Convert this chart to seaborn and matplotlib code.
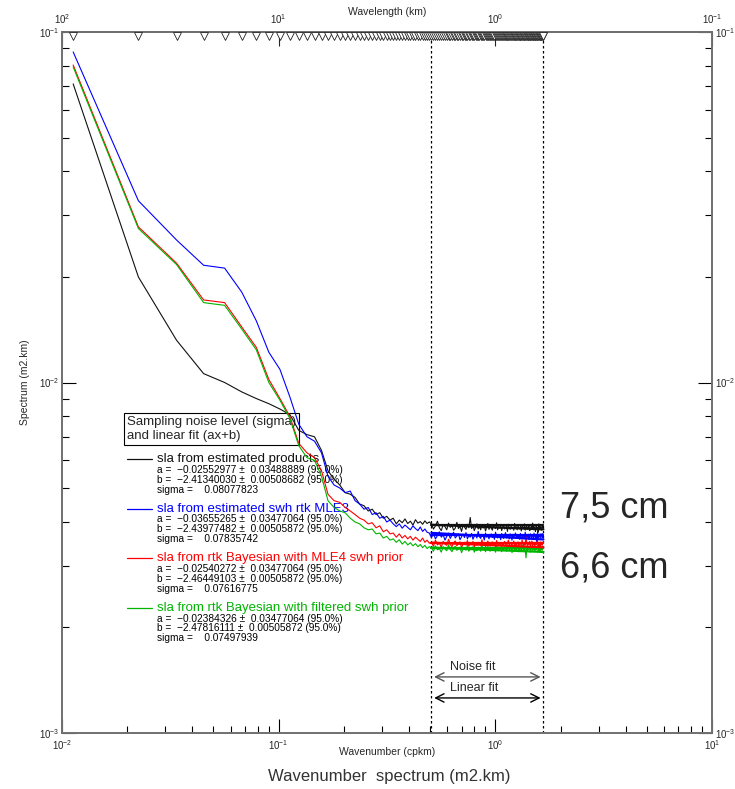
"""
Spectre en nombre d'onde de la SLA (produits estimés, MLE3, Bayésien)
avec niveau de bruit et ajustement linéaire sur le plateau haute fréquence
"""

import numpy as np
import pandas as pd
import matplotlib
matplotlib.use("Agg")
import matplotlib.pyplot as plt
import seaborn as sns
from matplotlib.ticker import LogLocator, LogFormatterSciNotation, NullLocator, NullFormatter
from matplotlib.lines import Line2D

# --- données ---------------------------------------------------------------
sampling_km = 0.3
n_points = 148
wavenumber = np.arange(1, n_points + 1) / (2 * sampling_km * n_points)
fit_start = 45  # premier point de la zone d'ajustement

series_names = [
    "sla from estimated products",
    "sla from estimated swh rtk MLE3",
    "sla from rtk Bayesian with MLE4 swh prior",
    "sla from rtk Bayesian with filtered swh prior",
]
series_colors = ["#111111", "#0000ff", "#ff0000", "#00b400"]

# spectres en 1e-3 m2.km
spec_products = [
    71.1, 20.0, 13.2, 10.6, 10.0, 9.4, 9.0, 8.7, 8.4, 8.1,
    7.3, 7.1, 7.0, 6.4, 5.6, 5.3, 5.1, 4.85, 4.8, 4.7,
    4.5, 4.45, 4.3, 4.35, 4.2, 4.25, 4.1, 4.15, 4.05, 4.1,
    3.95, 4.05, 3.98, 4.08, 3.96, 4.02, 3.92, 4.06, 3.97, 4.01,
    3.94, 4.03, 3.96, 4.00,
    3.95, 3.82, 3.90, 4.02, 3.85, 3.78, 3.93, 3.88, 3.80, 3.97,
    3.86, 3.91, 3.79, 3.84, 3.99, 3.83, 3.89, 3.76, 3.92, 3.87,
    3.81, 3.94, 3.85, 4.12, 3.83, 3.90, 3.78, 3.86, 3.95, 3.82,
    3.88, 3.80, 3.93, 3.84, 3.90, 3.77, 3.87, 3.96, 3.81, 3.89,
    3.85, 3.79, 3.92, 3.86, 3.83, 3.98, 3.80, 3.88, 3.84, 3.91,
    3.78, 3.87, 3.93, 3.82, 3.86, 3.89, 3.76, 3.94, 3.85, 3.81,
    3.90, 3.83, 3.87, 3.79, 3.96, 3.84, 3.88, 3.80, 3.92, 3.86,
    3.82, 3.89, 3.77, 3.91, 3.85, 3.83, 3.95, 3.79, 3.87, 3.90,
    3.81, 3.86, 3.93, 3.78, 3.84, 3.89, 3.82, 3.97, 3.80, 3.88,
    3.85, 3.76, 3.92, 3.83, 3.87, 3.74, 3.95, 3.81, 3.90, 3.84,
    3.79, 3.93, 3.86, 3.82,
]
spec_mle3 = [
    87.7, 33.0, 25.5, 21.6, 21.2, 18.1, 15.0, 12.2, 10.9, 9.1,
    7.6, 7.0, 6.8, 6.3, 5.4, 5.1, 5.0, 4.85, 4.9, 4.6,
    4.5, 4.35, 4.4, 4.2, 4.25, 4.1, 4.15, 4.0, 4.05, 3.95,
    3.88, 3.95, 3.84, 3.92, 3.86, 3.80, 3.90, 3.83, 3.78, 3.87,
    3.76, 3.82, 3.74, 3.72,
    3.61, 3.70, 3.58, 3.66, 3.75, 3.62, 3.68, 3.55, 3.64, 3.72,
    3.59, 3.67, 3.74, 3.60, 3.65, 3.70, 3.56, 3.63, 3.69, 3.61,
    3.73, 3.58, 3.66, 3.62, 3.71, 3.57, 3.64, 3.68, 3.60, 3.76,
    3.63, 3.59, 3.69, 3.65, 3.55, 3.72, 3.62, 3.67, 3.58, 3.66,
    3.70, 3.61, 3.64, 3.57, 3.74, 3.63, 3.60, 3.68, 3.65, 3.56,
    3.71, 3.62, 3.59, 3.67, 3.73, 3.60, 3.66, 3.63, 3.58, 3.70,
    3.64, 3.55, 3.69, 3.61, 3.66, 3.72, 3.59, 3.65, 3.62, 3.68,
    3.57, 3.71, 3.63, 3.60, 3.67, 3.64, 3.58, 3.74, 3.61, 3.66,
    3.62, 3.69, 3.56, 3.65, 3.70, 3.59, 3.63, 3.67, 3.60, 3.72,
    3.64, 3.58, 3.68, 3.49, 3.75, 3.61, 3.66, 3.62, 3.70, 3.59,
    3.65, 3.71, 3.60, 3.67,
]
spec_bayes_mle4 = [
    80.5, 27.8, 21.9, 17.2, 16.9, 14.4, 12.6, 10.2, 9.0, 8.0,
    6.7, 6.3, 6.1, 5.6, 4.8, 4.6, 4.55, 4.4, 4.3, 4.2,
    4.1, 4.05, 3.95, 3.98, 3.85, 3.9, 3.75, 3.8, 3.7, 3.72,
    3.62, 3.70, 3.60, 3.66, 3.58, 3.64, 3.55, 3.62, 3.57, 3.52,
    3.60, 3.50, 3.55, 3.48,
    3.50, 3.41, 3.55, 3.44, 3.48, 3.39, 3.52, 3.46, 3.43, 3.57,
    3.45, 3.40, 3.49, 3.53, 3.42, 3.47, 3.51, 3.38, 3.46, 3.50,
    3.44, 3.54, 3.41, 3.48, 3.45, 3.52, 3.39, 3.47, 3.43, 3.50,
    3.46, 3.42, 3.56, 3.44, 3.49, 3.40, 3.47, 3.53, 3.45, 3.41,
    3.48, 3.51, 3.43, 3.46, 3.39, 3.54, 3.47, 3.42, 3.50, 3.45,
    3.40, 3.49, 3.44, 3.52, 3.46, 3.41, 3.48, 3.55, 3.43, 3.47,
    3.50, 3.38, 3.46, 3.53, 3.44, 3.49, 3.42, 3.47, 3.51, 3.40,
    3.45, 3.48, 3.43, 3.56, 3.46, 3.41, 3.50, 3.44, 3.63, 3.47,
    3.42, 3.49, 3.45, 3.52, 3.39, 3.47, 3.53, 3.43, 3.48, 3.46,
    3.41, 3.50, 3.44, 3.47, 3.55, 3.42, 3.49, 3.45, 3.40, 3.51,
    3.46, 3.43, 3.48, 3.52,
]
spec_bayes_filt = [
    79.5, 27.5, 21.7, 16.9, 16.6, 14.2, 12.4, 10.0, 8.9, 7.9,
    6.6, 6.1, 6.0, 5.4, 4.6, 4.4, 4.3, 4.25, 4.1, 4.0,
    3.95, 3.85, 3.8, 3.82, 3.7, 3.72, 3.6, 3.64, 3.55, 3.58,
    3.50, 3.56, 3.46, 3.52, 3.44, 3.49, 3.42, 3.47, 3.40, 3.45,
    3.38, 3.43, 3.36, 3.40,
    3.38, 3.30, 3.42, 3.33, 3.36, 3.28, 3.40, 3.35, 3.31, 3.44,
    3.34, 3.29, 3.37, 3.41, 3.32, 3.36, 3.39, 3.27, 3.35, 3.38,
    3.32, 3.43, 3.30, 3.36, 3.34, 3.40, 3.28, 3.35, 3.31, 3.39,
    3.35, 3.30, 3.44, 3.33, 3.37, 3.29, 3.36, 3.41, 3.33, 3.30,
    3.37, 3.39, 3.32, 3.35, 3.28, 3.42, 3.36, 3.31, 3.38, 3.34,
    3.29, 3.37, 3.33, 3.40, 3.35, 3.30, 3.36, 3.43, 3.32, 3.35,
    3.38, 3.27, 3.34, 3.41, 3.33, 3.37, 3.31, 3.36, 3.39, 3.29,
    3.34, 3.37, 3.32, 3.44, 3.35, 3.30, 3.38, 3.33, 3.16, 3.36,
    3.31, 3.38, 3.34, 3.40, 3.28, 3.35, 3.41, 3.32, 3.37, 3.34,
    3.30, 3.39, 3.33, 3.36, 3.43, 3.31, 3.38, 3.34, 3.29, 3.40,
    3.35, 3.32, 3.37, 3.41,
]

fit_a = [-0.02552977, -0.03655265, -0.02540272, -0.02384326]
fit_a_err = [0.03488889, 0.03477064, 0.03477064, 0.03477064]
fit_b = [-2.41340030, -2.43977482, -2.46449103, -2.47816111]
fit_b_err = [0.00508682, 0.00505872, 0.00505872, 0.00505872]
sigma = [0.08077823, 0.07835742, 0.07616775, 0.07497939]

spectra = [spec_products, spec_mle3, spec_bayes_mle4, spec_bayes_filt]

# --- tableau long ----------------------------------------------------------
rows = []
for name, vals in zip(series_names, spectra):
    for k, v in zip(wavenumber, vals):
        rows.append({"series": name, "k": k, "spec": v * 1e-3})
df = pd.DataFrame(rows)

k_fit = wavenumber[fit_start - 1:]
fit_rows = []
for name, a, b, s in zip(series_names, fit_a, fit_b, sigma):
    noise_level = s ** 2 * 2 * sampling_km
    for k in k_fit:
        fit_rows.append({"series": name, "kind": "noise", "k": k, "spec": noise_level})
        fit_rows.append({"series": name, "kind": "linear", "k": k,
                         "spec": 10 ** (a * np.log10(k) + b)})
df_fit = pd.DataFrame(fit_rows)

# --- style -----------------------------------------------------------------
sns.set_style("ticks")
plt.rcParams["font.family"] = ["Liberation Sans", "DejaVu Sans"]
plt.rcParams["mathtext.default"] = "regular"

palette = dict(zip(series_names, series_colors))

fig = plt.figure(figsize=(7.35, 7.89), dpi=100)
ax = fig.add_axes([62 / 735, 1 - 733 / 789, 650 / 735, 701 / 789])

sns.lineplot(data=df, x="k", y="spec", hue="series", hue_order=series_names,
             palette=palette, estimator=None, sort=False, lw=0.8,
             legend=False, ax=ax, zorder=3)
for kind in ["noise", "linear"]:
    sns.lineplot(data=df_fit[df_fit["kind"] == kind], x="k", y="spec",
                 hue="series", hue_order=series_names, palette=palette,
                 estimator=None, sort=False, lw=1.6, legend=False, ax=ax, zorder=4)

ax.set_xscale("log")
ax.set_yscale("log")
ax.set_xlim(1e-2, 1e1)
ax.set_ylim(1e-3, 1e-1)

for axis in (ax.xaxis, ax.yaxis):
    axis.set_major_locator(LogLocator(base=10))
    axis.set_minor_locator(LogLocator(base=10, subs=np.arange(2, 10)))
    axis.set_major_formatter(LogFormatterSciNotation())
    axis.set_minor_formatter(NullFormatter())

ax.tick_params(which="both", direction="in", top=False, right=True,
               labelright=True, labelsize=7, color="black", width=0.8)
ax.tick_params(axis="y", which="both", pad=2)
ax.tick_params(which="major", length=10)
ax.tick_params(which="minor", length=5)
for s in ax.spines.values():
    s.set_color("#707070")
    s.set_linewidth(1.4)

ax.set_xlabel("Wavenumber (cpkm)", fontsize=7.5, labelpad=-3)
ax.set_ylabel("Spectrum (m2.km)", fontsize=7.5, labelpad=6)

# axe du haut : longueur d'onde
def inv(x):
    x = np.asarray(x, dtype=float)
    with np.errstate(divide="ignore"):
        return 1.0 / x

secax = ax.secondary_xaxis("top", functions=(inv, inv))
secax.set_xticks([100, 10, 1, 0.1])
secax.xaxis.set_major_formatter(LogFormatterSciNotation())
secax.xaxis.set_minor_locator(NullLocator())
secax.tick_params(which="major", direction="in", length=10, labelsize=7,
                  width=0.8, pad=4)
secax.set_xlabel("Wavelength (km)", fontsize=7.5, labelpad=-2)
for s in secax.spines.values():
    s.set_color("#707070")
    s.set_linewidth(1.4)

# marqueurs des longueurs d'onde échantillonnées
ax.plot(wavenumber, np.full(n_points, 0.9945), ls="none", marker="v", ms=5.5,
        mfc="white", mec="#222222", mew=0.6, transform=ax.get_xaxis_transform(),
        clip_on=False, zorder=5)

# zone d'ajustement
k_lo, k_hi = wavenumber[fit_start - 1], wavenumber[-1]
for kk in (k_lo, k_hi):
    ax.axvline(kk, color="black", ls=(0, (2, 2)), lw=0.9, zorder=2)

xt = ax.get_xaxis_transform()
ax.annotate("", xy=(k_hi, 0.080), xytext=(k_lo, 0.080), xycoords=xt, textcoords=xt,
            arrowprops=dict(arrowstyle="<->,head_length=0.6,head_width=0.3",
                            color="#555555", lw=1))
ax.annotate("", xy=(k_hi, 0.050), xytext=(k_lo, 0.050), xycoords=xt, textcoords=xt,
            arrowprops=dict(arrowstyle="<->,head_length=0.6,head_width=0.3",
                            color="black", lw=1))
ax.text(0.62, 0.094, "Noise fit", transform=xt, fontsize=9, va="center")
ax.text(0.62, 0.064, "Linear fit", transform=xt, fontsize=9, va="center")

# légende façon IDL
ax.text(127 / 735, 1 - 429 / 789, "Sampling noise level (sigma)\nand linear fit (ax+b)",
        transform=fig.transFigure, fontsize=9.5, va="center", ha="left", zorder=1,
        linespacing=1.2,
        bbox=dict(boxstyle="square,pad=0.2", fc="none", ec="black", lw=0.8))

for j, (name, color) in enumerate(zip(series_names, series_colors)):
    y0 = 459 + 49.5 * j
    fig.add_artist(Line2D([127 / 735, 152 / 735], [1 - y0 / 789] * 2,
                          color=color, lw=0.9))
    ax.text(157 / 735, 1 - y0 / 789, name, transform=fig.transFigure,
            fontsize=9.5, color=color, va="center", zorder=1)
    lines = [
        f"a =  {fit_a[j]:.8f} ±  {fit_a_err[j]:.8f} (95.0%)",
        f"b =  {fit_b[j]:.8f} ±  {fit_b_err[j]:.8f} (95.0%)",
        f"sigma =    {sigma[j]:.8f}",
    ]
    for m, txt in enumerate(lines):
        ax.text(157 / 735, 1 - (y0 + 11 + 9.8 * m) / 789, txt.replace("-", "\u2212"),
                transform=fig.transFigure, fontsize=7.3, color="black",
                va="center", zorder=1)

fig.text(560 / 735, 1 - 508 / 789, "7,5 cm", fontsize=26, va="center")
fig.text(560 / 735, 1 - 568 / 789, "6,6 cm", fontsize=26, va="center")
fig.text(389 / 735, 1 - 777 / 789, "Wavenumber  spectrum (m2.km)", fontsize=12,
         ha="center", va="center", color="#333333")

fig.savefig("out.png", dpi=100)
